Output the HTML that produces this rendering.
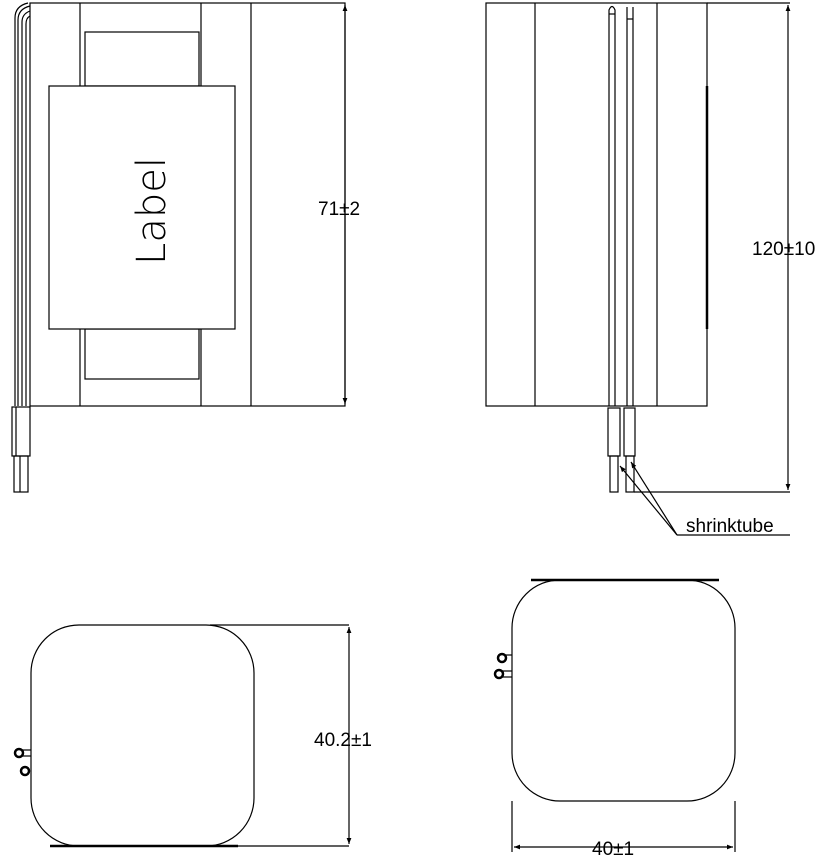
<!DOCTYPE html>
<html><head><meta charset="utf-8"><style>
html,body{margin:0;padding:0;background:#fff;}
svg{display:block}
text{font-family:"Liberation Sans",sans-serif;fill:#000}
</style></head><body>
<svg width="824" height="860" viewBox="0 0 824 860" xmlns="http://www.w3.org/2000/svg">
<defs>
<marker id="ar" viewBox="0 0 10 10" refX="10" refY="5" markerWidth="14" markerHeight="6" orient="auto-start-reverse" markerUnits="userSpaceOnUse"><path d="M0,1 L10,5 L0,9 z" fill="#000"/></marker>
</defs>
<g fill="none" stroke="#000" stroke-width="1.2">
<rect x="30" y="3" width="315" height="403"/>
<line x1="80" y1="3" x2="80" y2="406"/>
<line x1="201" y1="3" x2="201" y2="406"/>
<line x1="251" y1="3" x2="251" y2="406"/>
<rect x="85" y="32" width="114" height="54"/>
<rect x="85" y="329" width="114" height="50"/>
<rect x="49" y="86" width="186" height="243" fill="#fff"/>
<path d="M15,406 V18 Q15,6 28,3"/>
<path d="M18,406 V20 Q18,9 30,6"/>
<path d="M22,406 V22 Q22,14 30,11"/>
<path d="M26,406 V24 Q26,18 30,16"/>
<rect x="12" y="407" width="18" height="49"/>
<line x1="16" y1="407" x2="16" y2="456"/>
<rect x="14" y="456" width="14" height="36"/>
<line x1="20" y1="456" x2="20" y2="492"/>
<line x1="345" y1="5" x2="345" y2="404" marker-start="url(#ar)" marker-end="url(#ar)"/>
<rect x="486" y="3" width="221" height="403"/>
<line x1="535" y1="3" x2="535" y2="406"/>
<line x1="657" y1="3" x2="657" y2="406"/>
<line x1="707" y1="86" x2="707" y2="329" stroke-width="2.5"/>
<path d="M609,406 V10 Q612,3 615,10 V406"/>
<line x1="609" y1="14" x2="615" y2="14"/>
<path d="M627,406 V7 M633,406 V7"/>
<line x1="627" y1="19" x2="633" y2="19"/>
<rect x="608" y="408" width="12" height="48"/>
<rect x="624" y="408" width="11" height="48"/>
<rect x="610" y="456" width="8" height="36"/>
<rect x="626" y="456" width="8" height="36"/>
<line x1="634" y1="492" x2="790" y2="492"/>
<line x1="707" y1="3" x2="790" y2="3"/>
<line x1="788" y1="5" x2="788" y2="490" marker-start="url(#ar)" marker-end="url(#ar)"/>
<line x1="677" y1="535" x2="620" y2="466" marker-end="url(#ar)"/>
<line x1="677" y1="535" x2="631" y2="462" marker-end="url(#ar)"/>
<line x1="677" y1="535" x2="790" y2="535"/>
<rect x="31" y="625" width="223" height="221" rx="48" ry="48"/>
<line x1="210" y1="625" x2="349" y2="625"/>
<line x1="50" y1="846" x2="238" y2="846" stroke-width="2.5"/>
<line x1="238" y1="846" x2="349" y2="846"/>
<line x1="349" y1="627" x2="349" y2="844" marker-start="url(#ar)" marker-end="url(#ar)"/>
<circle cx="19" cy="753" r="4" stroke-width="2.5"/>
<line x1="22" y1="750" x2="31" y2="750"/><line x1="22" y1="756" x2="31" y2="756"/>
<circle cx="25" cy="771" r="4" stroke-width="2.5"/>
<rect x="512" y="580" width="223" height="221" rx="48" ry="48"/>
<line x1="531" y1="580" x2="719" y2="580" stroke-width="2.5"/>
<line x1="512" y1="801" x2="512" y2="852"/>
<line x1="735" y1="801" x2="735" y2="852"/>
<line x1="514" y1="847" x2="733" y2="847" marker-start="url(#ar)" marker-end="url(#ar)"/>
<circle cx="502" cy="658" r="4" stroke-width="2.5"/>
<line x1="505" y1="655" x2="512" y2="655"/>
<circle cx="499" cy="674" r="4" stroke-width="2.5"/>
<line x1="502" y1="671" x2="512" y2="671"/><line x1="502" y1="677" x2="512" y2="677"/>
</g>
<text x="0" y="0" font-size="40" transform="translate(152,211) rotate(-90)" text-anchor="middle" dominant-baseline="central" style="font-family:'DejaVu Sans',sans-serif;font-weight:200">Label</text>
<text x="318" y="215" font-size="19">71±2</text>
<text x="752" y="255" font-size="19">120±10</text>
<text x="686" y="532" font-size="19">shrinktube</text>
<text x="314" y="746" font-size="19">40.2±1</text>
<text x="592" y="855" font-size="19">40±1</text>
</svg>
</body></html>
